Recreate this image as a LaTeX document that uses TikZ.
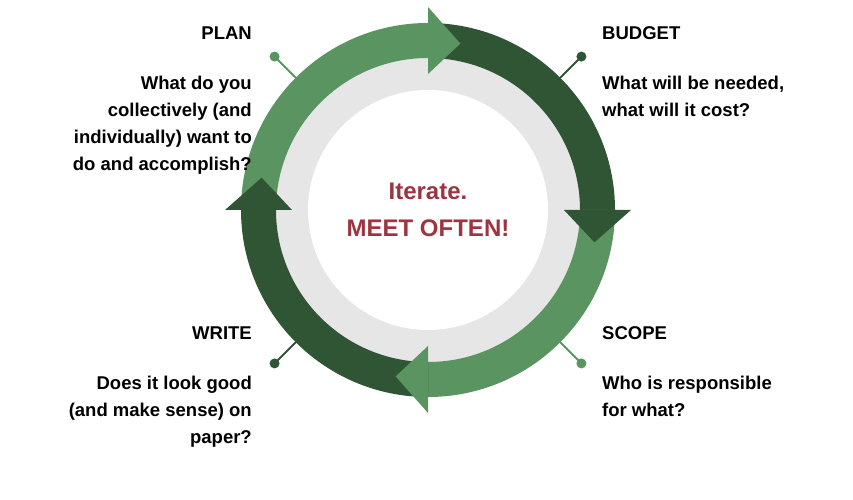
\documentclass[tikz,border=0pt]{standalone}
\usepackage{fontspec}
\setmainfont{Liberation Sans}
\usetikzlibrary{positioning}
\definecolor{lightgreen}{HTML}{5A9461}
\definecolor{darkgreen}{HTML}{305535}
\definecolor{ringgray}{HTML}{E6E6E6}
\definecolor{meetred}{HTML}{9C3441}
\tikzset{title/.style={font=\fontsize{18.5}{27}\selectfont\bfseries, inner sep=0pt},
  body/.style={font=\fontsize{18.5}{27}\selectfont\bfseries, inner sep=0pt}}

\begin{document}
\begin{tikzpicture}[x=1pt,y=1pt]
\useasboundingbox (0,0) rectangle (853,500);
\coordinate (c) at (428,290);
% gray ring
\fill[ringgray] (c) circle (153);
\fill[white] (c) circle (120);
% leader lines and dots
\foreach \ang/\col/\name in {135/lightgreen/p, 45/darkgreen/b, -45/lightgreen/s, -135/darkgreen/w} {
  \coordinate (dot\name) at ([shift={(\ang:217)}]c);
  \draw[\col, line width=2pt] (dot\name) -- ([shift={(\ang:180)}]c);
  \fill[\col] (dot\name) circle (5);
}
% arrow bodies
\foreach \a/\b/\col in {180/90/lightgreen, 90/0/darkgreen, 0/-90/lightgreen, -90/-180/darkgreen}
  \fill[\col] ([shift={(\a:187)}]c) arc[start angle=\a, end angle=\b, radius=187]
    -- ([shift={(\b:152)}]c) arc[start angle=\b, end angle=\a, radius=152] -- cycle;
% arrow heads
\foreach \b/\col in {90/lightgreen, 0/darkgreen, -90/lightgreen, -180/darkgreen}
  \fill[\col] ([shift={(\b:136)}]c) -- ([shift={(\b:203)}]c)
    -- ([shift={(\b-11:169.5)}]c) -- cycle;
% center text
\node[font=\fontsize{24}{37}\selectfont\bfseries, text=meetred, align=center] (meet) at (c) {Iterate.\\MEET OFTEN!};
% labels
\node[title, anchor=base east] (plan) at (252,460) {PLAN};
\node[body, anchor=north east, align=right] (plantext) at (252,424.5)
  {What do you\\collectively (and\\individually) want to\\do and accomplish?};
\node[title, anchor=base west] (budget) at (602,460) {BUDGET};
\node[body, anchor=north west, align=left] (budgettext) at (602,424.5)
  {What will be needed,\\what will it cost?};
\node[title, anchor=base east] (write) at (252,160) {WRITE};
\node[body, anchor=north east, align=right] (writetext) at (252,124.5)
  {Does it look good\\(and make sense) on\\paper?};
\node[title, anchor=base west] (scope) at (602,160) {SCOPE};
\node[body, anchor=north west, align=left] (scopetext) at (602,124.5)
  {Who is responsible\\for what?};
\end{tikzpicture}
\end{document}
